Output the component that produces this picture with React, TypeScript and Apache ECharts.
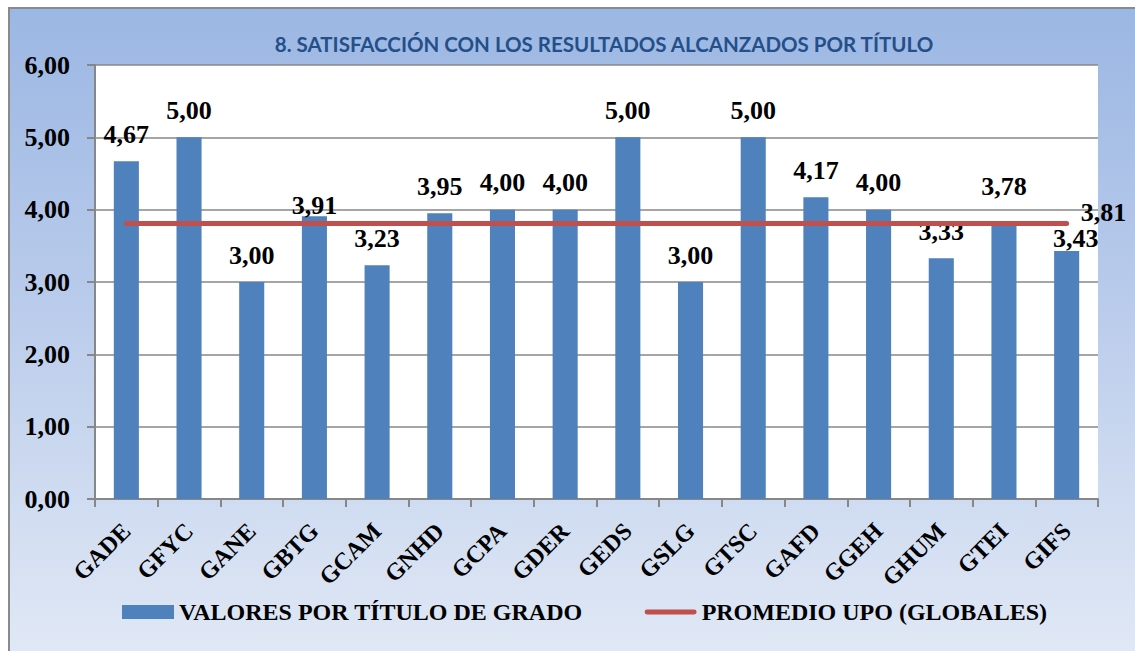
import React, { useEffect, useRef } from "react";
import * as echarts from "echarts";

const titleText = "8. SATISFACCIÓN CON LOS RESULTADOS ALCANZADOS POR TÍTULO";
const categories = ["GADE", "GFYC", "GANE", "GBTG", "GCAM", "GNHD", "GCPA", "GDER", "GEDS", "GSLG", "GTSC", "GAFD", "GGEH", "GHUM", "GTEI", "GIFS"];
const valoresPorTitulo = [4.67, 5.0, 3.0, 3.91, 3.23, 3.95, 4.0, 4.0, 5.0, 3.0, 5.0, 4.17, 4.0, 3.33, 3.78, 3.43];
const promedioUPO = [3.81, 3.81, 3.81, 3.81, 3.81, 3.81, 3.81, 3.81, 3.81, 3.81, 3.81, 3.81, 3.81, 3.81, 3.81, 3.81];
const seriesNames = ["VALORES POR TÍTULO DE GRADO", "PROMEDIO UPO (GLOBALES)"];
const yMin = 0;
const yMax = 6;
const yInterval = 1;

const fmt = (v: number) => v.toFixed(2).replace(".", ",");

// label adjustments (manual label placement in the original)
const labelOffsets: Record<number, [number, number]> = {
  3: [0, 16],
  14: [0, -12],
  15: [9, 15],
};

const serif = "'Liberation Serif', 'Times New Roman', serif";

export default function App() {
  const ref = useRef<HTMLDivElement>(null);
  useEffect(() => {
    if (!ref.current) return;
    const chart = echarts.init(ref.current, null, { renderer: "svg" });
    const gray = "#878787";
    chart.setOption({
      animation: false,
      backgroundColor: "transparent",
      graphic: [
        {
          type: "text",
          x: 594,
          y: 35,
          style: {
            text: titleText,
            fill: "#244f88",
            font: "bold 20.5px Lato, 'Open Sans', sans-serif",
            textAlign: "center",
            textVerticalAlign: "middle",
          },
        },
      ],
      grid: {
        left: 85,
        top: 56,
        right: 37,
        bottom: 152,
        show: true,
        backgroundColor: "#ffffff",
        borderWidth: 0,
      },
      legend: {
        left: 107,
        top: 586,
        itemWidth: 52,
        itemHeight: 14,
        itemGap: 62,
        textStyle: {
          fontFamily: serif,
          fontWeight: "bold",
          fontSize: 24,
          color: "#000",
        },
        data: [
          { name: seriesNames[0], icon: "rect" },
          { name: seriesNames[1], icon: "path://M2,0 L50,0 A2.5,2.5 0 0 1 50,5 L2,5 A2.5,2.5 0 0 1 2,0 Z" },
        ],
      },
      xAxis: {
        type: "category",
        data: categories,
        axisLine: { show: true, lineStyle: { color: gray, width: 2 } },
        axisTick: { show: true, length: 8, lineStyle: { color: gray, width: 2 } },
        axisLabel: {
          rotate: 45,
          margin: 28,
          interval: 0,
          fontFamily: serif,
          fontWeight: "bold",
          fontSize: 24,
          color: "#000",
        },
      },
      yAxis: {
        type: "value",
        min: yMin,
        max: yMax,
        interval: yInterval,
        axisLine: { show: true, lineStyle: { color: gray, width: 2 } },
        axisTick: { show: true, length: 8, lineStyle: { color: gray, width: 2 } },
        splitLine: { show: true, lineStyle: { color: gray, width: 1.5 } },
        axisLabel: {
          formatter: (v: number) => fmt(v),
          margin: 25,
          fontFamily: serif,
          fontWeight: "bold",
          fontSize: 26,
          color: "#000",
        },
      },
      series: [
        {
          name: seriesNames[0],
          type: "bar",
          barWidth: "40%",
          itemStyle: { color: "#4f81bd" },
          label: {
            show: true,
            position: "top",
            distance: 14,
            formatter: (p: any) => fmt(p.value),
            fontFamily: serif,
            fontWeight: "bold",
            fontSize: 26,
            lineHeight: 26,
            color: "#000",
          },
          data: valoresPorTitulo.map((v, i) =>
            labelOffsets[i] ? { value: v, label: { offset: labelOffsets[i] } } : v
          ),
          z: 2,
        },
        {
          name: seriesNames[1],
          type: "line",
          symbol: "none",
          lineStyle: { color: "#c0504d", width: 5, cap: "round" },
          itemStyle: { color: "#c0504d" },
          endLabel: {
            show: true,
            distance: 14,
            offset: [0, -11],
            formatter: (p: any) => fmt(p.value),
            fontFamily: serif,
            fontWeight: "bold",
            fontSize: 26,
            color: "#000",
          },
          data: promedioUPO,
          z: 3,
        },
      ],
    });
    return () => chart.dispose();
  }, []);

  return (
    <div
      style={{
        position: "absolute",
        left: 8,
        top: 7,
        width: 1127,
        height: 644,
        boxSizing: "border-box",
        borderLeft: "2px solid #8a8a8a",
        borderTop: "2px solid #8a8a8a",
        background: "linear-gradient(to bottom, #9bb7e3 0%, #b9cbeb 45%, #e0e8f5 100%)",
      }}
    >
      <div ref={ref} style={{ width: 1125, height: 642 }} />
    </div>
  );
}
